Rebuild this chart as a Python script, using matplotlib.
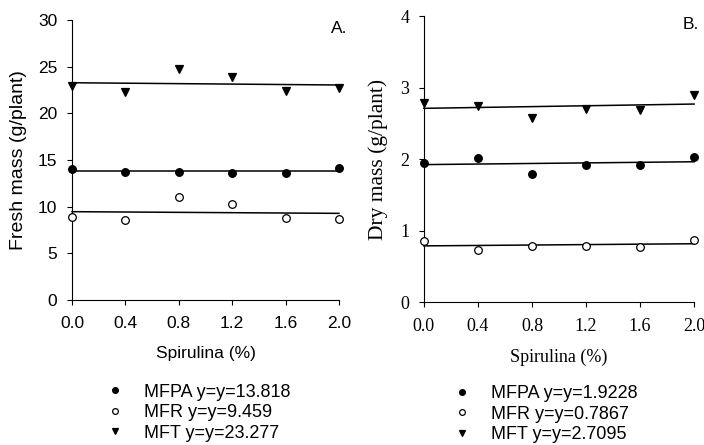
import matplotlib.pyplot as plt
import numpy as np
from matplotlib.ticker import MultipleLocator

# Spirulina dose (%)
spirulina = np.array([0.0, 0.4, 0.8, 1.2, 1.6, 2.0])

# A. fresh mass (g/plant)
fresh_mfpa = [14.04, 13.75, 13.75, 13.64, 13.57, 14.18]
fresh_mfr = [8.89, 8.57, 11.00, 10.29, 8.79, 8.68]
fresh_mft = [22.93, 22.29, 24.75, 23.86, 22.43, 22.71]
fresh_intercept = [13.818, 9.459, 23.277]
fresh_slope = [0.0, -0.09, -0.12]

# B. dry mass (g/plant)
dry_mfpa = [1.94, 2.02, 1.79, 1.92, 1.92, 2.03]
dry_mfr = [0.86, 0.73, 0.79, 0.79, 0.77, 0.87]
dry_mft = [2.79, 2.74, 2.57, 2.70, 2.69, 2.89]
dry_intercept = [1.9228, 0.7867, 2.7095]
dry_slope = [0.02, 0.015, 0.03]

series_names = ['MFPA', 'MFR', 'MFT']
# marker, face colour, size
marker_styles = [('o', 'black', 5.5), ('o', 'white', 5.5), ('v', 'black', 6)]

sans = 'Liberation Sans'
serif = 'Liberation Serif'

fig = plt.figure(figsize=(7.04, 4.45), dpi=100)
ax_a = fig.add_axes([0.1023, 0.326, 0.3792, 0.629])
ax_b = fig.add_axes([0.602, 0.321, 0.384, 0.643])


def draw_panel(ax, series, intercepts, slopes, tick_font, tick_size, ymax, ystep):
    handles = []
    for vals, b, m, name, (mk, fc, ms) in zip(series, intercepts, slopes,
                                              series_names, marker_styles):
        h, = ax.plot(spirulina, vals, linestyle='none', marker=mk, mfc=fc,
                     mec='black', mew=0.9, ms=ms, clip_on=False, zorder=3,
                     label=f'{name} y=y={b}')
        ax.plot(spirulina, b + m * spirulina, color='black', lw=1.1,
                zorder=2, clip_on=False)
        handles.append(h)
    for side in ['top', 'right']:
        ax.spines[side].set_visible(False)
    for side in ['left', 'bottom']:
        ax.spines[side].set_linewidth(0.8)
    ax.set_xlim(0, 2.0)
    ax.set_ylim(0, ymax)
    ax.xaxis.set_major_locator(MultipleLocator(0.4))
    ax.yaxis.set_major_locator(MultipleLocator(ystep))
    ax.xaxis.set_major_formatter(plt.FuncFormatter(lambda v, p: f'{v:.1f}'))
    ax.tick_params(direction='out', length=3.5, width=0.8,
                   labelsize=tick_size, labelfontfamily=tick_font)
    ax.tick_params(axis='x', pad=8)
    ax.tick_params(axis='y', pad=7)
    return handles


h_a = draw_panel(ax_a, [fresh_mfpa, fresh_mfr, fresh_mft],
                 fresh_intercept, fresh_slope, sans, 12.5, 30, 5)
ax_a.set_ylabel('Fresh mass (g/plant)', fontfamily=sans, fontsize=14, labelpad=8)
ax_a.set_xlabel('Spirulina (%)', fontfamily=sans, fontsize=12.5, labelpad=11)

h_b = draw_panel(ax_b, [dry_mfpa, dry_mfr, dry_mft],
                 dry_intercept, dry_slope, serif, 13, 4, 1)
ax_b.set_ylabel('Dry mass (g/plant)', fontfamily=serif, fontsize=15.5, labelpad=9)
ax_b.set_xlabel('Spirulina (%)', fontfamily=serif, fontsize=13, labelpad=10)

fig.text(0.494, 0.936, 'A.', fontfamily=sans, fontsize=12.5, ha='right', va='center')
fig.text(0.993, 0.945, 'B.', fontfamily=sans, fontsize=12.5, ha='right', va='center')

leg_opts = dict(frameon=False, prop={'family': sans, 'size': 13},
                handlelength=1.0, handletextpad=1.1, labelspacing=0.2,
                borderpad=0, borderaxespad=0, markerscale=0.75)
fig.legend(handles=h_a, loc='upper left', bbox_to_anchor=(0.151, 0.138), **leg_opts)
fig.legend(handles=h_b, loc='upper left', bbox_to_anchor=(0.644, 0.135), **leg_opts)

fig.savefig('out.png', dpi=100)
